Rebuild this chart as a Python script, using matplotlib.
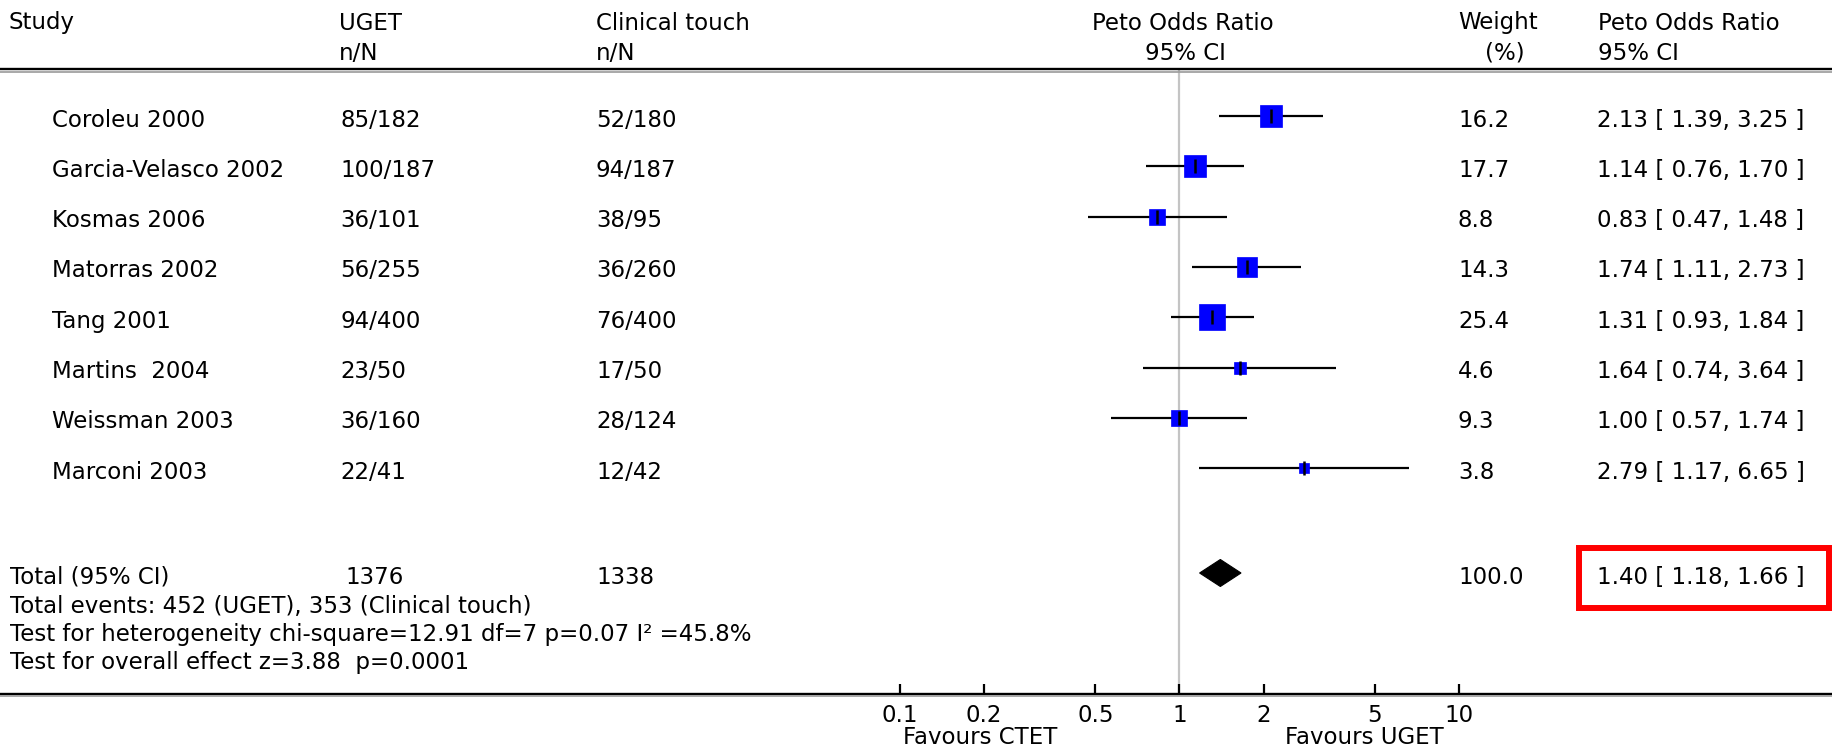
import numpy as np
import matplotlib
matplotlib.use("Agg")
import matplotlib.pyplot as plt
from matplotlib import transforms
from matplotlib.lines import Line2D
from matplotlib.patches import Rectangle, Polygon
from matplotlib.ticker import FixedLocator, FixedFormatter, NullLocator

# ---------------- data ----------------
studies = ["Coroleu 2000", "Garcia-Velasco 2002", "Kosmas 2006", "Matorras 2002",
           "Tang 2001", "Martins  2004", "Weissman 2003", "Marconi 2003"]
uget_nN = ["85/182", "100/187", "36/101", "56/255", "94/400", "23/50", "36/160", "22/41"]
clin_nN = ["52/180", "94/187", "38/95", "36/260", "76/400", "17/50", "28/124", "12/42"]
weights = [16.2, 17.7, 8.8, 14.3, 25.4, 4.6, 9.3, 3.8]
or_est = [2.13, 1.14, 0.83, 1.74, 1.31, 1.64, 1.00, 2.79]
ci_low = [1.39, 0.76, 0.47, 1.11, 0.93, 0.74, 0.57, 1.17]
ci_high = [3.25, 1.70, 1.48, 2.73, 1.84, 3.64, 1.74, 6.65]

total_uget_N = "1376"
total_clin_N = "1338"
total_weight = 100.0
total_or = 1.40
total_low = 1.18
total_high = 1.66

tick_values = [0.1, 0.2, 0.5, 1, 2, 5, 10]
tick_labels = ["0.1", "0.2", "0.5", "1", "2", "5", "10"]

footer_lines = [
    "Total events: 452 (UGET), 353 (Clinical touch)",
    "Test for heterogeneity chi-square=12.91 df=7 p=0.07 I\u00b2 =45.8%",
    "Test for overall effect z=3.88  p=0.0001",
]

# ---------------- layout ----------------
W, H = 1833, 752
plt.rcParams['font.family'] = ['DejaVu Sans']
FS = 16.5
fig = plt.figure(figsize=(W / 100, H / 100), dpi=100)
fig.patch.set_facecolor("white")


def fx(px):
    return px / W


def fy(py):
    return 1 - py / H


row_px0, row_dpx = 116.0, 50.3
top_px, bot_px = 68.0, 694.0
ax = fig.add_axes([fx(900), fy(bot_px), fx(1459) - fx(900), fy(top_px) - fy(bot_px)])
ax.set_xscale("log")
ax.set_xlim(0.1, 10)
ax.set_ylim((bot_px - row_px0) / row_dpx, (top_px - row_px0) / row_dpx)
for s in ax.spines.values():
    s.set_visible(False)
ax.patch.set_alpha(0)
ax.yaxis.set_visible(False)
ax.xaxis.set_major_locator(FixedLocator(tick_values))
ax.xaxis.set_major_formatter(FixedFormatter(tick_labels))
ax.xaxis.set_minor_locator(NullLocator())
ax.tick_params(axis="x", direction="in", length=7.5, width=1.6, pad=7,
               labelsize=FS, colors="black")

rows = np.arange(len(studies))
total_y = (573 - row_px0) / row_dpx

# reference line at 1
ax.axvline(1, color="#c4c4c4", lw=1.6, zorder=1)

# CI lines and squares
ax.hlines(rows, ci_low, ci_high, color="black", lw=1.6, zorder=2)
for r, e, w in zip(rows, or_est, weights):
    side_px = 5.3 * np.sqrt(w)
    ax.plot([e], [r], marker="s", ms=side_px * 0.72, mfc="#0000ff", mec="#0000ff",
            mew=0.5, ls="none", zorder=3)
ax.plot(or_est, rows, marker="|", ms=9.5, mew=1.8, color="black", ls="none", zorder=4)

# total diamond
dh = 13.5 / row_dpx
ax.add_patch(Polygon([[total_low, total_y], [total_or, total_y - dh],
                      [total_high, total_y], [total_or, total_y + dh]],
                     closed=True, facecolor="black", edgecolor="black", lw=0.8, zorder=3))

# ---------------- text ----------------
trans = transforms.blended_transform_factory(fig.transFigure, ax.transData)
toff = 0.08


def rtext(px, y, s, ha="left"):
    ax.text(fx(px), y + toff, s, transform=trans, ha=ha, va="center",
            fontsize=FS, color="black", clip_on=False)


for r in rows:
    rtext(52, r, studies[r])
    rtext(340, r, uget_nN[r])
    rtext(596, r, clin_nN[r])
    rtext(1458, r, f"{weights[r]:.1f}")
    rtext(1597, r, f"{or_est[r]:.2f} [ {ci_low[r]:.2f}, {ci_high[r]:.2f} ]")

rtext(10, total_y, "Total (95% CI)")
rtext(345, total_y, total_uget_N)
rtext(596, total_y, total_clin_N)
rtext(1458, total_y, f"{total_weight:.1f}")
rtext(1597, total_y, f"{total_or:.2f} [ {total_low:.2f}, {total_high:.2f} ]")

for i, line in enumerate(footer_lines):
    fig.text(fx(10), fy(607 + 28 * i), line, ha="left", va="center", fontsize=FS)

# headers
def htext(px, py, s, ha="left"):
    fig.text(fx(px), fy(py), s, ha=ha, va="center", fontsize=FS, color="black")


htext(9, 23, "Study")
htext(339, 23, "UGET")
htext(339, 53, "n/N")
htext(596, 23, "Clinical touch")
htext(596, 53, "n/N")
htext(1183, 23, "Peto Odds Ratio", ha="center")
htext(1185, 53, "95% CI", ha="center")
htext(1458, 23, "Weight")
htext(1485, 53, "(%)")
htext(1598, 23, "Peto Odds Ratio")
htext(1598, 53, "95% CI")

fig.text(fx(903), fy(738), "Favours CTET", ha="left", va="center", fontsize=FS)
fig.text(fx(1285), fy(738), "Favours UGET", ha="left", va="center", fontsize=FS)

# horizontal rules (double look)
for py, col, lw in [(69, "black", 1.7), (71.5, "#9a9a9a", 1.2),
                    (693.5, "black", 1.7), (696, "#9a9a9a", 1.2)]:
    fig.add_artist(Line2D([0, 1], [fy(py), fy(py)], transform=fig.transFigure,
                          color=col, lw=lw))

# red highlight box
fig.add_artist(Rectangle((fx(1579), fy(608)), fx(1829) - fx(1579), fy(548) - fy(608),
                         transform=fig.transFigure, fill=False, edgecolor="#ff0000",
                         lw=4.3))

fig.savefig("out.png", dpi=100, facecolor="white")
